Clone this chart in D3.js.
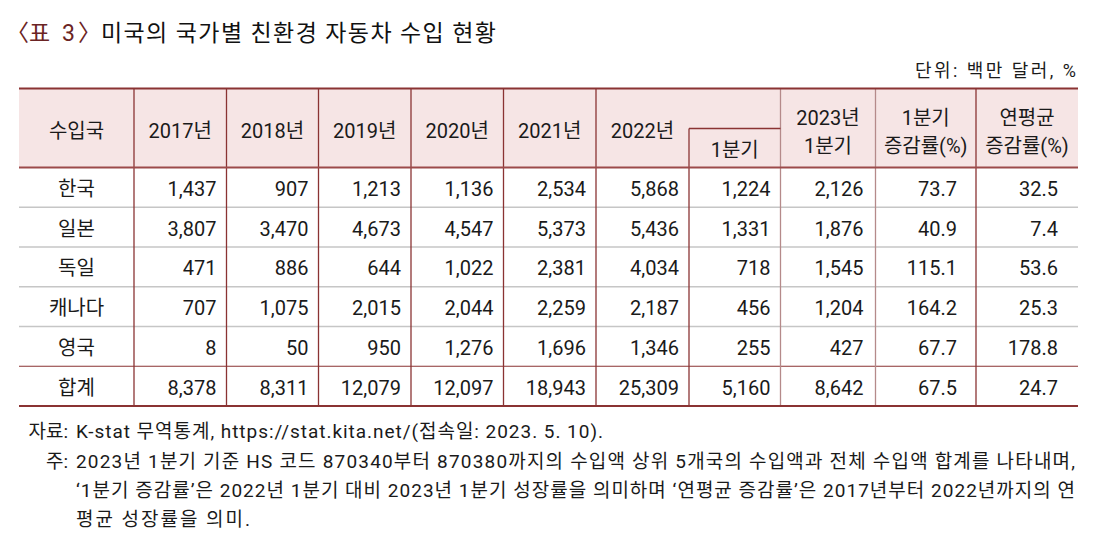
<!DOCTYPE html>
<html><head><meta charset="utf-8">
<script src="https://cdn.jsdelivr.net/npm/d3@7"></script>
<style>
html,body{margin:0;padding:0;background:#fff;}
svg{display:block;}
text{font-family:"Roboto","Noto Sans CJK KR",sans-serif;fill:#1a1a1a;}
</style></head>
<body>
<svg id="c" width="1115" height="544"></svg>
<script>
// ---- data ----
const countries = ["한국","일본","독일","캐나다","영국","합계"];
const y2017 = [1437,3807,471,707,8,8378];
const y2018 = [907,3470,886,1075,50,8311];
const y2019 = [1213,4673,644,2015,950,12079];
const y2020 = [1136,4547,1022,2044,1276,12097];
const y2021 = [2534,5373,2381,2259,1696,18943];
const y2022 = [5868,5436,4034,2187,1346,25309];
const q1_2022 = [1224,1331,718,456,255,5160];
const q1_2023 = [2126,1876,1545,1204,427,8642];
const q1Growth = [73.7,40.9,115.1,164.2,67.7,67.5];
const avgGrowth = [32.5,7.4,53.6,25.3,178.8,24.7];
const headerLabels = ["수입국","2017년","2018년","2019년","2020년","2021년","2022년","1분기","2023년\n1분기","1분기\n증감률(%)","연평균\n증감률(%)"];
const titleTagParts = ["〈","표","3","〉"];
const titleText = "미국의 국가별 친환경 자동차 수입 현황";
const unitText = "단위: 백만 달러, %";
const noteSourceLabel = "자료:";
const noteSource = "K-stat 무역통계, https://stat.kita.net/(접속일: 2023. 5. 10).";
const noteLabel = "주:";
const noteLines = [
 "2023년 1분기 기준 HS 코드 870340부터 870380까지의 수입액 상위 5개국의 수입액과 전체 수입액 합계를 나타내며,",
 "‘1분기 증감률’은 2022년 1분기 대비 2023년 1분기 성장률을 의미하며 ‘연평균 증감률’은 2017년부터 2022년까지의 연",
 "평균 성장률을 의미."
];

// ---- layout ----
const svg = d3.select("#c");
const RED = "#8a3333", LIGHTRED = "#b58a8a", FILL = "#f6e5e5", GRAY = "#c6c6c6";
const colKeys = ["country","y2017","y2018","y2019","y2020","y2021","y2022","q1_2022","q1_2023","q1Growth","avgGrowth"];
const colEdges = [19,134,226.5,318.5,411,503.5,596,689,780.5,875.5,976,1078];
const xi = d3.scaleOrdinal().domain(colKeys).range(d3.range(colKeys.length));
const xL = k => colEdges[xi(k)], xR = k => colEdges[xi(k)+1];
const tTop = 88.5, headBot = 167.5, subLine = 128.5, tBottom = 406;
const y = d3.scaleBand().domain(countries).range([headBot, tBottom]);
const fs = 20;

const intF = d3.format(","), pctF = d3.format(".1f");
const columns = [
 {k:"y2017", v:y2017, f:intF, pad:10},
 {k:"y2018", v:y2018, f:intF, pad:10},
 {k:"y2019", v:y2019, f:intF, pad:10},
 {k:"y2020", v:y2020, f:intF, pad:10},
 {k:"y2021", v:y2021, f:intF, pad:10},
 {k:"y2022", v:y2022, f:intF, pad:10},
 {k:"q1_2022", v:q1_2022, f:intF, pad:10},
 {k:"q1_2023", v:q1_2023, f:intF, pad:12},
 {k:"q1Growth", v:q1Growth, f:pctF, pad:19},
 {k:"avgGrowth", v:avgGrowth, f:pctF, pad:20}
];

// title
const tagX = [6,29,62,78];
const tag = svg.append("text").attr("y",41).style("font-size","23px").style("fill","#6b2424");
titleTagParts.forEach((p,i)=>tag.append("tspan").attr("x",tagX[i]).text(p).style("fill","#6b2424"));
svg.append("text").attr("x",101).attr("y",41).style("font-size","23px").style("fill","#111")
  .text(titleText).attr("textLength",395).attr("lengthAdjust","spacing");

// unit
svg.append("text").attr("x",915).attr("y",77)
  .style("font-size","18px").text(unitText).attr("textLength",161).attr("lengthAdjust","spacing");

// header fill
svg.append("rect").attr("x",colEdges[0]).attr("y",tTop).attr("width",colEdges[colEdges.length-1]-colEdges[0])
  .attr("height",headBot-tTop).attr("fill",FILL);

// horizontal row lines
const rowLines = countries.slice(1).map(c => ({y:y(c), last:c==="합계"}));
svg.selectAll("line.row").data(rowLines).join("line").attr("class","row")
  .attr("x1",colEdges[0]).attr("x2",colEdges[colEdges.length-1])
  .attr("y1",d=>d.y).attr("y2",d=>d.y)
  .attr("stroke",d=>d.last?RED:GRAY).attr("stroke-width",d=>d.last?1.2:1.6);

// vertical lines
const vlines = colKeys.slice(1).map(k => ({x:xL(k), y1: k==="q1_2022"?subLine:tTop, light:(k==="q1_2023"||k==="q1Growth")}));
svg.selectAll("line.v").data(vlines).join("line").attr("class","v")
  .attr("x1",d=>d.x).attr("x2",d=>d.x).attr("y1",d=>d.y1).attr("y2",tBottom)
  .attr("stroke",d=>d.light?LIGHTRED:RED).attr("stroke-width",1.3);

// sub header line
svg.append("line").attr("x1",xL("q1_2022")).attr("x2",xR("q1_2022")).attr("y1",subLine).attr("y2",subLine)
  .attr("stroke",RED).attr("stroke-width",1.3);

// major horizontal lines
[[tTop,2],[headBot,2],[tBottom,2]].forEach(([yy,w])=>{
  svg.append("line").attr("x1",colEdges[0]).attr("x2",colEdges[colEdges.length-1])
    .attr("y1",yy).attr("y2",yy).attr("stroke", yy===headBot?"#9c4a4a":RED).attr("stroke-width",w);
});

// header labels
headerLabels.forEach((lab,i)=>{
  const k = colKeys[i];
  const cx = (xL(k)+xR(k))/2;
  const lines = lab.split("\n");
  let ys;
  if (k==="q1_2022") ys=[157];
  else if (lines.length===2) ys=[125,152.5];
  else ys=[137.5];
  const t = svg.append("text").attr("text-anchor","middle").style("font-size",fs+"px");
  lines.forEach((l,j)=>t.append("tspan").attr("x",cx).attr("y",ys[j]).text(l));
});

// body: country names
svg.selectAll("text.country").data(countries).join("text").attr("class","country")
  .attr("x",(xL("country")+xR("country"))/2).attr("y",d=>y(d)+y.bandwidth()/2+8.5)
  .attr("text-anchor","middle").style("font-size",fs+"px").text(d=>d);

// body: values
columns.forEach(col=>{
  svg.selectAll("text.c_"+col.k).data(col.v).join("text").attr("class","c_"+col.k)
    .attr("x",xR(col.k)-col.pad).attr("y",(d,i)=>y(countries[i])+y.bandwidth()/2+8.5)
    .attr("text-anchor","end").style("font-size",fs+"px").text(d=>col.f(d));
});

// notes
const nfs = "19px";
svg.append("text").attr("x",68).attr("y",438).attr("text-anchor","end").style("font-size",nfs).text(noteSourceLabel);
svg.append("text").attr("x",76).attr("y",438).style("font-size",nfs).text(noteSource)
  .attr("textLength",527).attr("lengthAdjust","spacing");
svg.append("text").attr("x",68).attr("y",467.5).attr("text-anchor","end").style("font-size",nfs).text(noteLabel);
const noteY = [467.5,497,526];
const noteW = [999,999,174];
noteLines.forEach((l,i)=>{
  svg.append("text").attr("x",76).attr("y",noteY[i]).style("font-size",nfs).text(l)
    .attr("textLength",noteW[i]).attr("lengthAdjust","spacing");
});
</script>
</body></html>
